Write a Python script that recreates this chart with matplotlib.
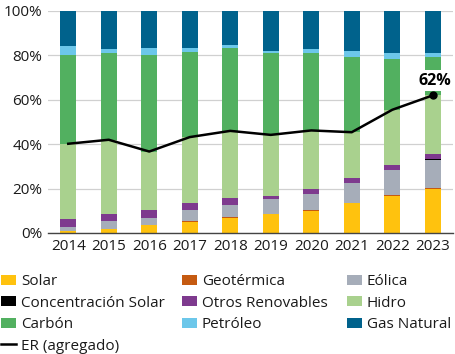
import matplotlib
matplotlib.use("Agg")
import matplotlib.pyplot as plt
import numpy as np
from matplotlib.patches import Patch
from matplotlib.lines import Line2D

plt.rcParams['font.family'] = ['Open Sans', 'DejaVu Sans']

years = ['2014', '2015', '2016', '2017', '2018', '2019', '2020', '2021', '2022', '2023']
solar      = [0.8, 1.8, 3.4, 5.1, 6.7, 8.4, 10.0, 13.5, 16.5, 19.9]
geotermica = [0.1, 0.1, 0.1, 0.3, 0.6, 0.2, 0.2, 0.2, 0.6, 0.3]
eolica     = [1.6, 3.3, 3.1, 4.8, 5.1, 6.5, 7.3, 8.8, 11.1, 12.5]
csp        = [0.0, 0.0, 0.0, 0.0, 0.0, 0.0, 0.0, 0.0, 0.0, 0.7]
otros      = [3.9, 3.3, 3.6, 3.1, 3.5, 1.7, 2.4, 2.4, 2.5, 2.4]
hidro      = [33.8, 33.5, 26.5, 29.9, 30.1, 27.4, 26.3, 20.5, 24.8, 26.2]
carbon     = [40.0, 39.0, 43.5, 38.5, 37.5, 36.8, 34.9, 33.9, 22.9, 17.5]
petroleo   = [4.2, 1.8, 3.3, 1.8, 1.2, 0.9, 1.7, 2.6, 2.6, 1.5]
gas        = [15.6, 17.2, 16.5, 16.5, 15.3, 18.1, 17.2, 18.1, 19.0, 19.0]
er         = [40.2, 42.0, 36.7, 43.2, 46.0, 44.2, 46.2, 45.4, 55.5, 62.0]

series = [
    ('Solar', solar, '#FFC20E'),
    ('Geotérmica', geotermica, '#C55A11'),
    ('Eólica', eolica, '#A6ADB9'),
    ('Concentración Solar', csp, '#000000'),
    ('Otros Renovables', otros, '#7E3A8E'),
    ('Hidro', hidro, '#A9D18E'),
    ('Carbón', carbon, '#52B060'),
    ('Petróleo', petroleo, '#6CC7EA'),
    ('Gas Natural', gas, '#00628C'),
]

fig = plt.figure(figsize=(4.56, 3.54), dpi=100)
ax = fig.add_axes([48/456, 1 - 233/354, 405/456, 222/354])

x = np.arange(len(years))
bottom = np.zeros(len(years))
for name, vals, col in series:
    v = np.array(vals)
    ax.bar(x, v, bottom=bottom, width=0.4, color=col, zorder=2, linewidth=0)
    bottom += v

ax.plot(x, er, color='black', lw=1.8, zorder=3)
ax.plot(x[-1], er[-1], 'o', color='black', ms=5, zorder=4)
ax.text(x[-1] + 0.05, er[-1] + 3.0, '62%', ha='center', va='bottom', fontsize=11.5,
        fontweight='bold', zorder=5,
        bbox=dict(boxstyle='square,pad=0.15', fc='white', ec='none'))

ax.set_xlim(-0.5, 9.5)
ax.set_ylim(0, 100)
ax.set_xticks(x)
ax.set_xticklabels(years)
ax.set_yticks([0, 20, 40, 60, 80, 100])
ax.set_yticklabels(['0%', '20%', '40%', '60%', '80%', '100%'])
ax.tick_params(axis='both', length=0, labelsize=11, colors='#1a1a1a')
ax.tick_params(axis='y', pad=4)
ax.tick_params(axis='x', pad=4)
ax.yaxis.grid(True, color='#d0d0d0', lw=0.9, zorder=0)
ax.set_axisbelow(True)
for s in ['top', 'right', 'left']:
    ax.spines[s].set_visible(False)
ax.spines['bottom'].set_color('#444444')
ax.spines['bottom'].set_linewidth(1.0)
ax.spines['bottom'].set_zorder(3)

hmap = {n: Patch(facecolor=c, edgecolor='none') for n, _, c in series}
erh = Line2D([0], [0], color='black', lw=1.8)
columns = [
    (['Solar', 'Concentración Solar', 'Carbón', None], 1),
    (['Geotérmica', 'Otros Renovables', 'Petróleo'], 182),
    (['Eólica', 'Hidro', 'Gas Natural'], 347),
]
for names, xpx in columns:
    handles, labels = [], []
    for n in names:
        if n is None:
            handles.append(erh); labels.append('ER (agregado)')
        else:
            handles.append(hmap[n]); labels.append(n)
    fig.legend(handles, labels, ncol=1, loc='upper left',
               bbox_to_anchor=(xpx / 456, 1 - 274/354),
               frameon=False, fontsize=11, handlelength=0.95, handleheight=0.65,
               handletextpad=0.35, labelspacing=0.43,
               borderaxespad=0, borderpad=0, labelcolor='#1a1a1a')

fig.savefig('out.png', dpi=100)
